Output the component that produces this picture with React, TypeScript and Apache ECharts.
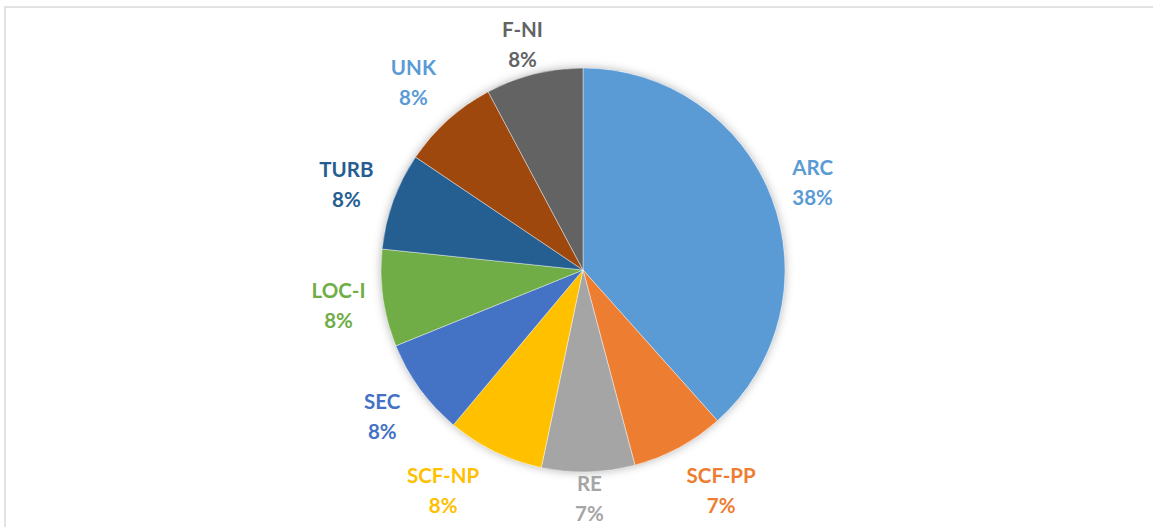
import React, { useEffect, useRef } from "react";
import * as echarts from "echarts";

const categories = ["ARC", "SCF-PP", "RE", "SCF-NP", "SEC", "LOC-I", "TURB", "UNK", "F-NI"];
const values = [38.4, 7.45, 7.45, 7.78, 7.78, 7.78, 7.78, 7.78, 7.78];
const sliceColors = ["#5B9BD5", "#ED7D31", "#A5A5A5", "#FFC000", "#4472C4", "#70AD47", "#255E91", "#9E480E", "#636363"];
const labelColors = ["#5B9BD5", "#ED7D31", "#A5A5A5", "#FFC000", "#4472C4", "#70AD47", "#255E91", "#5B9BD5", "#636363"];

export default function App() {
  const ref = useRef<HTMLDivElement>(null);
  useEffect(() => {
    if (!ref.current) return;
    const chart = echarts.init(ref.current, undefined, { renderer: "svg" });
    const total = values.reduce((a, b) => a + b, 0);
    const center = [583, 270];
    const R = 202;
    const GAP = 14;
    const TOP = 14;
    const BOTTOM = 528;
    const BOTTOM_SIDE = 520;
    chart.setOption({
      animation: false,
      backgroundColor: "#ffffff",
      graphic: [
        {
          type: "rect",
          shape: { x: 5, y: 7, width: 1200, height: 600 },
          style: { fill: "none", stroke: "#d9d9d9", lineWidth: 1.5 },
          silent: true,
        },
      ],
      series: [
        {
          type: "pie",
          center,
          radius: [0, R],
          silent: true,
          z: 1,
          label: { show: false },
          labelLine: { show: false },
          itemStyle: {
            color: "#ffffff",
            shadowBlur: 10,
            shadowColor: "rgba(0,0,0,0.3)",
            shadowOffsetX: 0,
            shadowOffsetY: 0,
          },
          data: [{ value: 1, name: "shadow" }],
        },
        {
          type: "pie",
          center,
          radius: [0, R],
          startAngle: 90,
          clockwise: true,
          z: 2,
          label: { show: false },
          labelLine: { show: false },
          itemStyle: { borderColor: "#ffffff", borderWidth: 0.4 },
          data: categories.map((c, i) => ({
            name: c,
            value: values[i],
            itemStyle: { color: sliceColors[i] },
          })),
        },
        {
          type: "pie",
          center,
          radius: [230, 266],
          startAngle: 90,
          clockwise: true,
          silent: true,
          z: 3,
          itemStyle: { color: "rgba(0,0,0,0)" },
          labelLine: { show: false },
          label: {
            show: true,
            position: "inside",
            fontFamily: "Lato",
            fontWeight: "bold",
            fontSize: 20.5,
            lineHeight: 30,
            align: "center",
            formatter: (p: any) => `${p.name}\n${Math.round((p.value / total) * 100)}%`,
          },
          labelLayout: (p: any) => {
            const r = p.labelRect;
            const cx = r.x + r.width / 2;
            const cy = r.y + r.height / 2;
            const dx = cx - center[0];
            const dy = cy - center[1];
            const len = Math.hypot(dx, dy) || 1;
            let ux = dx / len;
            let uy = dy / len;
            const distFor = (vx: number, vy: number) =>
              R + GAP + (Math.abs(vx) * r.width) / 2 + (Math.abs(vy) * r.height) / 2;
            let dist = distFor(ux, uy);
            let x = center[0] + ux * dist;
            let y = center[1] + uy * dist;
            const side = Math.abs(ux) > 0.25;
            const maxY = (side ? BOTTOM_SIDE : BOTTOM) - r.height / 2;
            const minY = TOP + r.height / 2;
            if (y > maxY && side) {
              y = maxY;
              const sx = ux < 0 ? -1 : 1;
              for (let k = 0; k < 40; k++) {
                dist = distFor(ux, uy);
                uy = Math.min(1, (y - center[1]) / dist);
                ux = sx * Math.sqrt(1 - uy * uy);
              }
              dist = distFor(ux, uy);
              x = center[0] + ux * dist;
            } else {
              y = Math.max(minY, Math.min(maxY, y));
            }
            return { x, y, align: "center", verticalAlign: "middle" };
          },
          data: categories.map((c, i) => ({
            name: c,
            value: values[i],
            label: { color: labelColors[i] },
          })),
        },
      ],
    });
    return () => chart.dispose();
  }, []);
  return (
    <div
      ref={ref}
      style={{ position: "fixed", left: 0, top: 0, width: 1153, height: 527 }}
    />
  );
}
